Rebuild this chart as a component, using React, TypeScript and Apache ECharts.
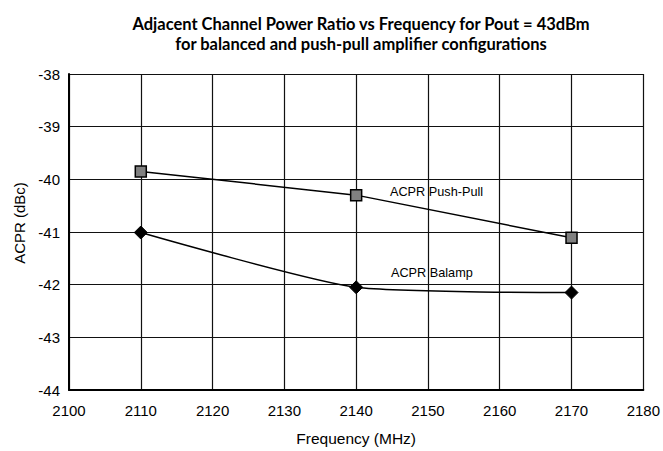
import React, { useEffect, useRef } from "react";
import * as echarts from "echarts";

const frequencies = [2110, 2140, 2170];
const pushPull = [-39.85, -40.3, -41.11];
const balamp = [-41.01, -42.05, -42.15];
const titleLines = [
  "Adjacent Channel Power Ratio vs Frequency for Pout = 43dBm",
  "for balanced and push-pull amplifier configurations",
];

export default function App() {
  const ref = useRef<HTMLDivElement>(null);
  useEffect(() => {
    if (!ref.current) return;
    const chart = echarts.init(ref.current, null, { renderer: "svg" });
    const font = "Arial";
    chart.setOption({
      animation: false,
      backgroundColor: "#ffffff",
      title: {
        text: titleLines.join("\n"),
        left: 356,
        textAlign: "center",
        top: 9,
        textStyle: {
          fontFamily: "Lato",
          fontWeight: "bold",
          fontSize: 16.5,
          lineHeight: 20,
          color: "#000",
        },
      },
      grid: { left: 69, right: 19, top: 74, bottom: 60 },
      xAxis: {
        type: "value",
        min: 2100,
        max: 2180,
        interval: 10,
        name: "Frequency (MHz)",
        nameLocation: "middle",
        nameGap: 40,
        nameTextStyle: { fontFamily: font, fontSize: 15.5, color: "#000" },
        axisLine: { lineStyle: { color: "#000", width: 2 } },
        axisTick: { show: false },
        axisLabel: {
          fontFamily: font,
          fontSize: 15,
          color: "#000",
          margin: 13,
          formatter: (v: number) => String(v),
        },
        splitLine: { show: true, lineStyle: { color: "#111", width: 1.2 } },
      },
      yAxis: {
        type: "value",
        min: -44,
        max: -38,
        interval: 1,
        name: "ACPR (dBc)",
        nameLocation: "middle",
        nameGap: 42,
        nameRotate: 90,
        nameTextStyle: { fontFamily: font, fontSize: 15, color: "#000", padding: [0, 0, 0, 18] },
        axisLine: { show: true, lineStyle: { color: "#000", width: 2 } },
        axisTick: { show: false },
        axisLabel: { fontFamily: font, fontSize: 15, color: "#000", margin: 9 },
        splitLine: { show: true, lineStyle: { color: "#111", width: 1.2 } },
      },
      series: [
        {
          name: "ACPR Push-Pull",
          type: "line",
          data: frequencies.map((f, i) => [f, pushPull[i]]),
          symbol: "rect",
          symbolSize: 11,
          itemStyle: { color: "#808080", borderColor: "#000", borderWidth: 1.5 },
          lineStyle: { color: "#000", width: 1.5 },
          z: 5,
        },
        {
          name: "ACPR Balamp",
          type: "line",
          data: frequencies.map((f, i) => [f, balamp[i]]),
          smooth: 0.2,
          symbol: "diamond",
          symbolSize: 13,
          itemStyle: { color: "#000", borderColor: "#000" },
          lineStyle: { color: "#000", width: 1.5 },
          z: 5,
        },
      ],
      graphic: [
        {
          type: "text",
          x: 390,
          y: 192,
          style: {
            text: "ACPR Push-Pull",
            fontFamily: font,
            fontSize: 12.7,
            fill: "#000",
            align: "left",
            verticalAlign: "middle",
          },
        },
        {
          type: "text",
          x: 391,
          y: 273,
          style: {
            text: "ACPR Balamp",
            fontFamily: font,
            fontSize: 12.7,
            fill: "#000",
            align: "left",
            verticalAlign: "middle",
          },
        },
      ],
    });
    return () => chart.dispose();
  }, []);
  return <div ref={ref} style={{ width: 663, height: 451, position: "absolute", left: 0, top: 0 }} />;
}
